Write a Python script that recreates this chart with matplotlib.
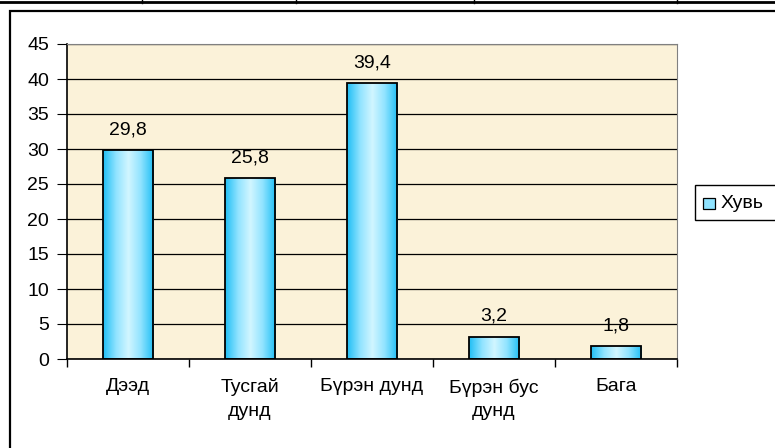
import numpy as np
import matplotlib
matplotlib.use('Agg')
import matplotlib.pyplot as plt
from matplotlib.colors import LinearSegmentedColormap
from matplotlib.lines import Line2D
from matplotlib.patches import Rectangle

plt.rcParams['font.family'] = ['Liberation Sans', 'DejaVu Sans']

categories = ['Дээд', 'Тусгай\nдунд', 'Бүрэн дунд', 'Бүрэн бус\nдунд', 'Бага']
values = [29.8, 25.8, 39.4, 3.2, 1.8]
value_labels = ['29,8', '25,8', '39,4', '3,2', '1,8']
series_name = 'Хувь'

W, H = 775, 448
fig = plt.figure(figsize=(W / 100, H / 100), dpi=100)
fig.patch.set_facecolor('white')

# table borders above the chart
fig.add_artist(Line2D([0, 1], [1 - 2 / H, 1 - 2 / H], color='black', lw=2))
for xs in [142, 296, 474, 677]:
    fig.add_artist(Line2D([xs / W, xs / W], [1 - 3 / H, 1], color='black', lw=1))

# chart frame
fig.add_artist(Rectangle((10 / W, -0.1), 1.0, 1 - 11 / H + 0.1, transform=fig.transFigure,
                         facecolor='white', edgecolor='black', lw=1.6, zorder=0))

ax = fig.add_axes([67 / W, 1 - 359 / H, (677 - 67) / W, (359 - 44) / H])
ax.set_facecolor('#FBF2D9')
ax.set_yticks(range(0, 46, 5))
ax.yaxis.grid(True, color='black', lw=0.9)
ax.set_axisbelow(True)

cmap = LinearSegmentedColormap.from_list('bar', ['#22BFF5', '#8FE3FF', '#D2F6FF', '#8FE3FF', '#22BFF5'])
grad = np.linspace(0, 1, 64).reshape(1, -1)
bw = 0.41
bars = ax.bar(range(len(values)), values, width=bw, facecolor='none', edgecolor='black', lw=1.3, zorder=3)
for b in bars:
    x0, y0 = b.get_x(), b.get_y()
    im = ax.imshow(grad, cmap=cmap, aspect='auto', zorder=2,
                   extent=[x0, x0 + b.get_width(), y0, y0 + b.get_height()])
    im.set_clip_path(b)
ax.set_xlim(-0.5, len(categories) - 0.5)
ax.set_ylim(0, 45)

for i, (v, t) in enumerate(zip(values, value_labels)):
    ax.text(i, v + 2.3, t, ha='center', va='baseline', fontsize=14)

ax.set_xticks(np.arange(-0.5, len(categories), 1))
ax.set_xticklabels([])
ax.set_xticks(range(len(categories)), minor=True)
ax.set_xticklabels(categories, minor=True, fontsize=14, linespacing=1.5, va='top')
ax.tick_params(axis='x', which='minor', length=0, pad=14)
ax.tick_params(axis='x', which='major', length=6, direction='out', width=1)
ax.tick_params(axis='y', length=7, direction='out', labelsize=14, pad=6)

for s in ['top', 'right']:
    ax.spines[s].set_color('#808080')
for s in ['left', 'bottom']:
    ax.spines[s].set_color('black')
    ax.spines[s].set_linewidth(1.2)

# legend
fig.add_artist(Rectangle((695 / W, 1 - 220 / H), 0.2, 35 / H, transform=fig.transFigure,
                         facecolor='white', edgecolor='black', lw=1, zorder=5))
fig.add_artist(Rectangle((703 / W, 1 - 209 / H), 12 / W, 11 / H, transform=fig.transFigure,
                         facecolor='#8FE3FF', edgecolor='black', lw=0.9, zorder=6))
fig.text(721 / W, 1 - 203 / H, series_name, fontsize=14, va='center', ha='left', zorder=7)

fig.savefig('out.png', dpi=100)
